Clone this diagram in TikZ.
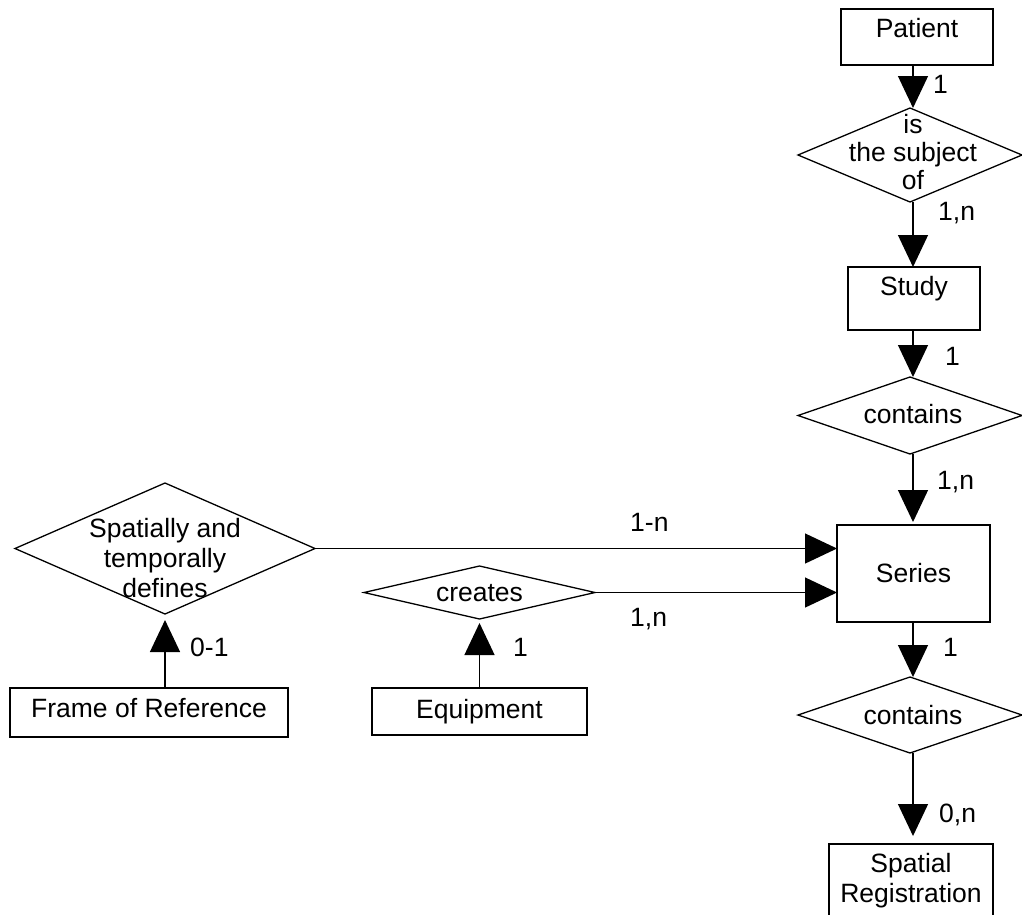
\documentclass[tikz,border=0pt]{standalone}
\usepackage{fontspec}
\setmainfont{Liberation Sans}
\usetikzlibrary{shapes.geometric,arrows.meta}
\begin{document}
\begin{tikzpicture}[x=1pt, y=-1pt,
    ent/.style={rectangle,draw=black,line width=1.3pt,inner sep=0pt,outer sep=0pt,align=center,font=\fontsize{26.5}{30}\selectfont},
    rel/.style={diamond,draw=black,line width=1.3pt,inner sep=0pt,outer sep=0pt},
    txt/.style={align=center,inner sep=0pt,font=\fontsize{26.5}{30}\selectfont},
    lab/.style={anchor=west,inner sep=0pt,font=\fontsize{26.5}{30}\selectfont},
    arr/.style={line width=1.3pt,-{Triangle[length=32pt,width=30pt]}}]
    \useasboundingbox (0,0) rectangle (1022,914);
    \coordinate (spine) at (913,0);

    \node[ent,minimum width=152pt,minimum height=56pt,text depth=19pt] (patient) at (917,37) {Patient};
    \node[rel,minimum width=224pt,minimum height=94pt] (subj) at (910,155) {};
    \node[txt,font=\fontsize{26.5}{28}\selectfont] (subjtxt) at (913,152) {is\\the subject\\of};
    \node[ent,minimum width=132pt,minimum height=63pt,text depth=26pt] (study) at (914,298.5) {Study};
    \node[rel,minimum width=224pt,minimum height=77pt] (cont1) at (910,415.5) {};
    \node[txt] (cont1txt) at (913,414) {contains};
    \node[ent,minimum width=153pt,minimum height=97pt] (series) at (913.5,573.5) {Series};
    \node[rel,minimum width=224pt,minimum height=76pt] (cont2) at (910,715) {};
    \node[txt] (cont2txt) at (913,715) {contains};
    \node[ent,minimum width=164pt,minimum height=74pt] (spatreg) at (911,881) {Spatial\\Registration};

    \node[rel,minimum width=300pt,minimum height=131pt] (defines) at (165,548.5) {};
    \node[txt] (definestxt) at (165,558) {Spatially and\\temporally\\defines};
    \node[rel,minimum width=231pt,minimum height=53pt] (creates) at (479.5,592.5) {};
    \node[txt] (createstxt) at (479.5,593) {creates};
    \node[ent,minimum width=278pt,minimum height=49pt,text depth=10pt] (frame) at (149,712.5) {Frame of Reference};
    \node[ent,minimum width=215pt,minimum height=47pt] (equip) at (479.5,711.5) {Equipment};

    \draw[arr] (patient.south -| spine) -- (subj.north -| spine);
    \draw[arr] (subj.south -| spine) -- (study.north -| spine);
    \draw[arr] (study.south -| spine) -- (cont1.north -| spine);
    \draw[arr,shorten >=3pt] (cont1.south -| spine) -- (series.north -| spine);
    \draw[arr] (series.south -| spine) -- (cont2.north -| spine);
    \draw[arr,shorten >=8pt] (cont2.south -| spine) -- (spatreg.north -| spine);

    \draw[arr] (defines.east) -- (defines.east -| series.west);
    \draw[arr] (creates.east) -- (creates.east -| series.west);
    \draw[arr,shorten >=6pt] (frame.north -| defines.south) -- (defines.south);
    \draw[arr,shorten >=4pt] (equip.north -| creates.south) -- (creates.south);

    \node[lab] (l1) at (933,84) {1};
    \node[lab] (l2) at (938,213) {1,n};
    \node[lab] (l3) at (945,356) {1};
    \node[lab] (l4) at (937,482) {1,n};
    \node[lab] (l5) at (943,647) {1};
    \node[lab] (l6) at (939,815) {0,n};
    \node[lab] (l7) at (190,647) {0-1};
    \node[lab] (l8) at (513,647) {1};
    \node[lab] (l9) at (630,522) {1-n};
    \node[lab] (l10) at (630,619) {1,n};
\end{tikzpicture}
\end{document}
